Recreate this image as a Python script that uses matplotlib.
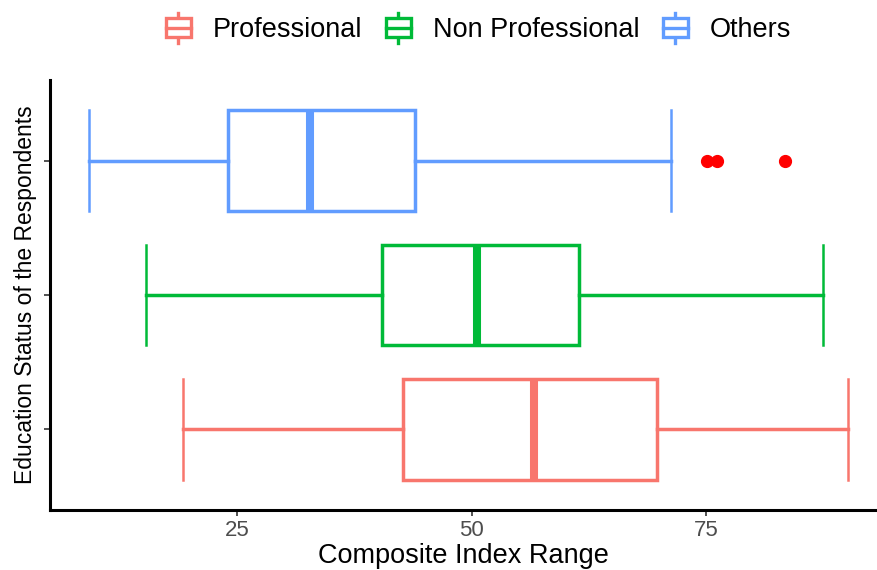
import matplotlib
matplotlib.use('Agg')
import matplotlib.pyplot as plt
from matplotlib.legend_handler import HandlerBase
from matplotlib.patches import Rectangle
from matplotlib.lines import Line2D

plt.rcParams['font.family'] = ['Liberation Sans', 'DejaVu Sans']

# five-number summaries per education group (bottom to top)
groups = ['Professional', 'Non Professional', 'Others']
colors = ['#F8766D', '#00BA38', '#619CFF']
whis_lo = [19.2, 15.3, 9.2]
q1 = [42.7, 40.4, 24.0]
median = [56.6, 50.6, 32.8]
q3 = [69.7, 61.4, 44.0]
whis_hi = [90.1, 87.4, 71.2]
outliers = [[], [], [75.1, 76.2, 83.4]]

x_ticks = [25, 50, 75]


class BoxKeyHandler(HandlerBase):
    # small vertical boxplot glyph used as legend key
    def create_artists(self, legend, orig_handle, xdescent, ydescent,
                       width, height, fontsize, trans):
        c = orig_handle.get_color()
        x0, y0 = -xdescent, -ydescent
        cx = x0 + width / 2
        box = Rectangle((x0 + 0.1 * width, y0 + 0.18 * height),
                        0.8 * width, 0.64 * height,
                        facecolor='white', edgecolor=c, lw=2.4, transform=trans)
        mid = Line2D([x0 + 0.1 * width, x0 + 0.9 * width],
                     [y0 + 0.5 * height] * 2, color=c, lw=2.4, transform=trans)
        lo = Line2D([cx, cx], [y0, y0 + 0.18 * height], color=c, lw=2.4, transform=trans)
        hi = Line2D([cx, cx], [y0 + 0.82 * height, y0 + height], color=c, lw=2.4, transform=trans)
        return [lo, hi, box, mid]


fig = plt.figure(figsize=(8.77, 5.70), dpi=100)
ax = fig.add_axes([50 / 877, 60 / 570, 827 / 877, 430 / 570])

for i, g in enumerate(groups):
    stats = [dict(label=g, whislo=whis_lo[i], q1=q1[i], med=median[i],
                  q3=q3[i], whishi=whis_hi[i], fliers=outliers[i])]
    c = colors[i]
    ax.bxp(stats, positions=[i + 1], widths=0.75, capwidths=0.75,
           orientation='horizontal', patch_artist=True,
           boxprops=dict(facecolor='white', edgecolor=c, lw=2.5),
           whiskerprops=dict(color=c, lw=2.5),
           capprops=dict(color=c, lw=1.8),
           medianprops=dict(color=c, lw=5.8, solid_capstyle='butt'),
           flierprops=dict(marker='o', markerfacecolor='red',
                           markeredgecolor='red', markersize=8.5))

ax.set_xlim(5.06, 93.2)
ax.set_ylim(0.4, 3.6)
ax.set_xticks(x_ticks)
ax.set_xticklabels([str(t) for t in x_ticks])
ax.set_yticks([1, 2, 3])
ax.set_yticklabels(['', '', ''])
ax.tick_params(axis='both', colors='#333333', labelcolor='#4D4D4D',
               length=4, width=1.2, labelsize=16)

for s in ['top', 'right']:
    ax.spines[s].set_visible(False)
for s in ['left', 'bottom']:
    ax.spines[s].set_linewidth(2.2)
    ax.spines[s].set_color('black')

ax.set_xlabel('Composite Index Range', fontsize=19.5, color='black', labelpad=1)
ax.set_ylabel('Education Status of the Respondents', fontsize=16.5,
              color='black', labelpad=2)

handles = [Line2D([], [], color=c) for c in colors]
fig.legend(handles, groups, loc='center', bbox_to_anchor=(477 / 877, 1 - 28 / 570),
           ncol=3, frameon=False, fontsize=19.5, handler_map={Line2D: BoxKeyHandler()},
           handlelength=1.15, handleheight=1.3, handletextpad=0.7, columnspacing=0.75)

fig.savefig('out.png', dpi=100, facecolor='white')
